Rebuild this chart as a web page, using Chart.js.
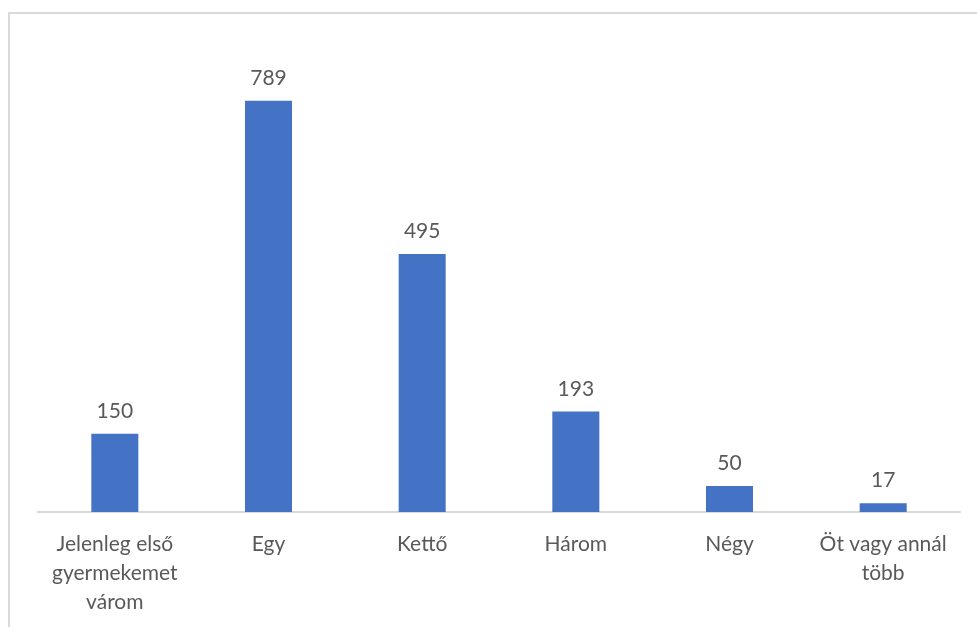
<!DOCTYPE html>
<html>
<head>
  <meta charset="UTF-8">
  <title>Gyermekek száma</title>
  <style>
    body {
      margin: 0;
      background: #fff;
      width: 977px;
      height: 627px;
      overflow: hidden;
      position: relative;
    }
    .frame {
      position: absolute;
      left: 8px;
      top: 12px;
      width: 980px;
      height: 630px;
      border-top: 2px solid #d9d9d9;
      border-left: 2px solid #d9d9d9;
    }
    .chart-box {
      position: absolute;
      left: 0;
      top: 0;
      width: 977px;
      height: 627px;
    }
  </style>
</head>
<body>

  <div class="frame"></div>
  <div class="chart-box">
    <canvas id="kidsChart"></canvas>
  </div>

  <script src="https://cdn.jsdelivr.net/npm/chart.js"></script>
  <script>
    // Data
    const categories = [
      ["Jelenleg első", "gyermekemet", "várom"],
      "Egy",
      "Kettő",
      "Három",
      "Négy",
      ["Öt vagy annál", "több"]
    ];
    const counts = [150, 789, 495, 193, 50, 17];

    const textColor = "#595959";
    const fontFamily = "Lato, 'Open Sans', sans-serif";

    // value labels above bars
    const valueLabels = {
      id: "valueLabels",
      afterDatasetsDraw(chart) {
        const ctx = chart.ctx;
        const meta = chart.getDatasetMeta(0);
        ctx.save();
        ctx.fillStyle = textColor;
        ctx.font = "21px " + fontFamily;
        ctx.textAlign = "center";
        ctx.textBaseline = "bottom";
        meta.data.forEach((bar, i) => {
          ctx.fillText(chart.data.datasets[0].data[i], bar.x, bar.y - 12);
        });
        ctx.restore();
      }
    };

    const ctx = document.getElementById("kidsChart").getContext("2d");
    new Chart(ctx, {
      type: "bar",
      data: {
        labels: categories,
        datasets: [{
          data: counts,
          backgroundColor: "#4472c4",
          barPercentage: 0.306,
          categoryPercentage: 1
        }]
      },
      options: {
        responsive: true,
        maintainAspectRatio: false,
        animation: false,
        layout: { padding: { left: 38, right: 17, top: 43, bottom: 0 } },
        plugins: {
          legend: { display: false },
          tooltip: { enabled: false }
        },
        scales: {
          x: {
            grid: { display: false, drawTicks: false },
            border: { display: true, color: "#d9d9d9", width: 2 },
            ticks: {
              color: textColor,
              font: { family: fontFamily, size: 21, lineHeight: 1.37 },
              padding: 18,
              maxRotation: 0,
              autoSkip: false
            },
            afterFit(scale) { scale.height = 115; }
          },
          y: {
            display: false,
            min: 0,
            max: 900
          }
        }
      },
      plugins: [valueLabels]
    });
  </script>
</body>
</html>
